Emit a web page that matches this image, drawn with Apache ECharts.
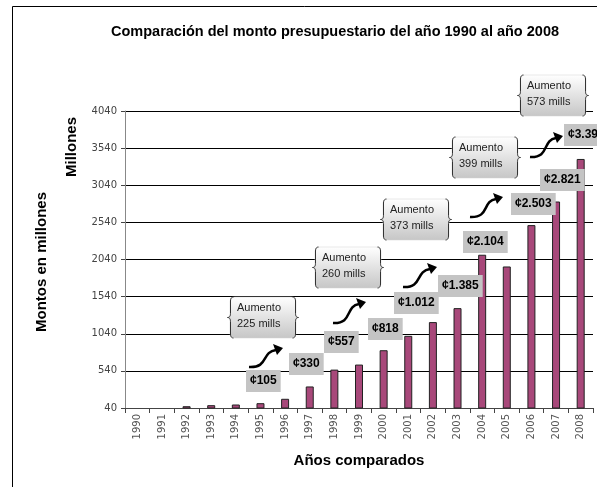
<!DOCTYPE html>
<html>
<head>
<meta charset="utf-8">
<title></title>
<script src="https://cdn.jsdelivr.net/npm/echarts@6/dist/echarts.min.js"></script>
<style>
  html, body { margin: 0; padding: 0; background: #fff; }
</style>
</head>
<body>
<div id="main" style="width:597px;height:487px;"></div>
<script type="text/javascript">
// datos
var years = ['1990', '1991', '1992', '1993', '1994', '1995', '1996', '1997', '1998', '1999',
  '2000', '2001', '2002', '2003', '2004', '2005', '2006', '2007', '2008'];
var montos = ['-', '-', 64, 78, 87, 105, 164, 330, 557, 625, 818, 1012, 1197, 1385, 2104, 1946, 2503, 2821, 3394];
var etiquetas = ['¢105', '¢330', '¢557', '¢818', '¢1.012', '¢1.385', '¢2.104', '¢2.503', '¢2.821', '¢3.394'];
var aumentos = ['225', '260', '373', '399', '573'];

var myChart = echarts.init(document.getElementById('main'));

// cajas grises de los montos (esquina sup. izq.)
var etiquetaPos = [[246, 370], [289, 353], [324, 331], [368, 318], [394, 292],
  [438, 275], [463, 231], [511, 193], [540, 169], [564, 124]];
// llamadas "Aumento" (izq, arriba)
var llamadaPos = [[230, 297], [315, 247], [383, 199], [452, 137], [520, 75]];
// flechas (inicio -> punta)
var flechaPos = [[249, 367, 283, 348], [333, 323, 366, 302], [403, 287, 437, 267],
  [470, 217, 503, 197], [530, 157, 563, 136]];

var fuente = '"Liberation Sans", Arial, sans-serif';
var graphics = [];

// marco del grafico (solo izquierda y arriba se ven)
graphics.push({
  type: 'polyline', silent: true,
  shape: { points: [[12.5, 487], [12.5, 6.5], [597, 6.5]] },
  style: { stroke: '#000', lineWidth: 1, fill: null }
});

etiquetas.forEach(function (t, i) {
  graphics.push({
    type: 'text', z: 10,
    x: etiquetaPos[i][0], y: etiquetaPos[i][1],
    style: {
      text: t, fill: '#000',
      font: 'bold 12px ' + fuente,
      backgroundColor: '#c4c4c4', padding: [5, 4, 5, 4]
    }
  });
});

// curva cuadratica muestreada
function quad(p0, c, p1, pts) {
  for (var k = 0; k <= 6; k++) {
    var t = k / 6, u = 1 - t;
    pts.push([u * u * p0[0] + 2 * u * t * c[0] + t * t * p1[0],
      u * u * p0[1] + 2 * u * t * c[1] + t * t * p1[1]]);
  }
}
function llave(x, y, h, dir) {
  var m = y + h / 2, d = 3 * dir, pts = [];
  quad([x + d, y], [x, y], [x, y + 4], pts);
  quad([x, m - 4], [x, m], [x - d, m], pts);
  quad([x - d, m], [x, m], [x, m + 4], pts);
  quad([x, y + h - 4], [x, y + h], [x + d, y + h], pts);
  return pts;
}

aumentos.forEach(function (a, i) {
  var x = llamadaPos[i][0], y = llamadaPos[i][1], w = 66, h = 41;
  graphics.push({
    type: 'rect', z: 10,
    shape: { x: x, y: y, width: w, height: h, r: 5 },
    style: {
      fill: new echarts.graphic.LinearGradient(0, 0, 0, 1, [
        { offset: 0, color: '#ffffff' }, { offset: 1, color: '#c6c6c6' }
      ]),
      stroke: '#d0d0d0', lineWidth: 0.5
    }
  });
  graphics.push({
    type: 'polyline', z: 11,
    shape: { points: llave(x + 0.5, y, h, 1) },
    style: { stroke: '#333', lineWidth: 1, fill: null }
  });
  graphics.push({
    type: 'polyline', z: 11,
    shape: { points: llave(x + w - 0.5, y, h, -1) },
    style: { stroke: '#333', lineWidth: 1, fill: null }
  });
  graphics.push({
    type: 'text', z: 12, x: x + 7, y: y + 3,
    style: {
      text: 'Aumento\n' + a + ' mills', fill: '#222', lineHeight: 16,
      font: '11px ' + fuente
    }
  });
});

flechaPos.forEach(function (f) {
  var x0 = f[0], y0 = f[1], x1 = f[2], y1 = f[3];
  var ex = x1 - 7, ey = y1 + 2;
  graphics.push({
    type: 'bezierCurve', z: 10,
    shape: { x1: x0, y1: y0, x2: ex, y2: ey,
      cpx1: x0 + 20, cpy1: y0 + 1, cpx2: x0 + 12, cpy2: ey + 2 },
    style: { stroke: '#000', lineWidth: 2.5, fill: null }
  });
  graphics.push({
    type: 'polygon', z: 10,
    shape: { points: [[x1, y1], [ex - 3, ey - 6], [ex + 1, ey + 5]] },
    style: { fill: '#000' }
  });
});

// titulos de eje vertical
graphics.push({
  type: 'text', x: 42, y: 262, rotation: Math.PI / 2,
  style: { text: 'Montos en millones', fill: '#000', font: 'bold 15px ' + fuente,
    align: 'center', verticalAlign: 'middle' }
});
graphics.push({
  type: 'text', x: 72, y: 147, rotation: Math.PI / 2,
  style: { text: 'Millones', fill: '#000', font: 'bold 15px ' + fuente,
    align: 'center', verticalAlign: 'middle' }
});

var option = {
  backgroundColor: '#fff',
  animation: false,
  title: {
    text: 'Comparación del monto presupuestario del año 1990 al año 2008',
    left: 330, top: 19, textAlign: 'center',
    textStyle: { fontSize: 14.5, fontWeight: 'bold', color: '#000', fontFamily: fuente }
  },
  grid: { left: 125, right: 4, top: 111, bottom: 79 },
  xAxis: {
    type: 'category',
    data: years,
    name: 'Años comparados',
    nameLocation: 'middle',
    nameGap: 45,
    nameTextStyle: { fontSize: 15, fontWeight: 'bold', color: '#000', fontFamily: fuente },
    axisLine: { lineStyle: { color: '#444', width: 1 } },
    axisTick: { show: true, length: 5, alignWithLabel: false, lineStyle: { color: '#444' } },
    axisLabel: {
      rotate: 90, interval: 0, margin: 6, color: '#555',
      fontSize: 10, fontFamily: '"DejaVu Sans", sans-serif'
    }
  },
  yAxis: {
    type: 'value',
    min: 40, max: 4040, interval: 500,
    axisLine: { show: true, lineStyle: { color: '#888', width: 1 } },
    axisTick: { show: true, length: 4, inside: false, lineStyle: { color: '#444' } },
    axisLabel: {
      margin: 8, color: '#444', fontSize: 10, fontFamily: '"DejaVu Sans", sans-serif',
      formatter: function (v) { return String(v); }
    },
    splitLine: { show: true, lineStyle: { color: '#000', width: 1 } }
  },
  series: [{
    type: 'bar',
    data: montos,
    barWidth: 8,
    itemStyle: { color: '#a8487a', borderColor: '#222', borderWidth: 1 }
  }],
  graphic: graphics
};
myChart.setOption(option);
</script>
</body>
</html>
